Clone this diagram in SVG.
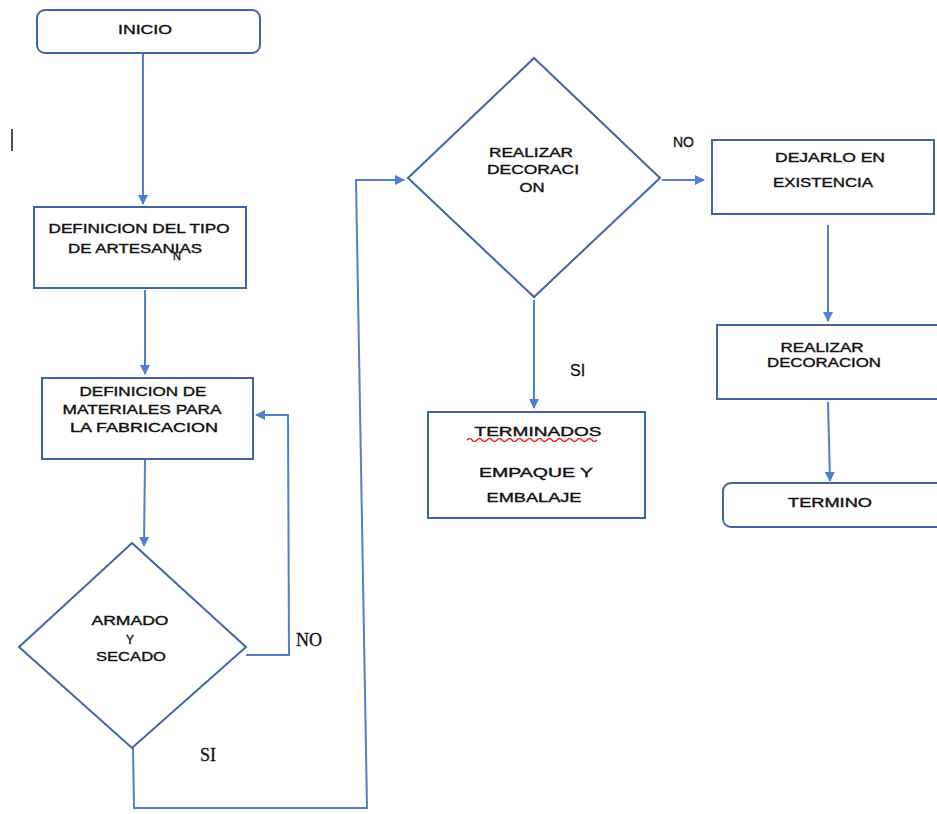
<svg xmlns="http://www.w3.org/2000/svg" width="937" height="814" viewBox="0 0 937 814">
<defs>
<style>
.box{fill:#ffffff;stroke:#41669f;stroke-width:2}
.con{fill:none;stroke:#4f7fcf;stroke-width:2}
.t{font-family:"Liberation Sans",Arial,sans-serif;font-size:12px;fill:#111;stroke:#111;stroke-width:0.35;text-anchor:middle;dominant-baseline:central}
.lbl{font-family:"Liberation Serif","Times New Roman",serif;font-size:18px;fill:#111;stroke:#111;stroke-width:0.3;dominant-baseline:central}
.lbls{font-family:"Liberation Sans",Arial,sans-serif;font-size:16px;fill:#111;stroke:#111;stroke-width:0.3;dominant-baseline:central}
</style>
<marker id="ah" viewBox="0 0 10 10" refX="9" refY="5" markerWidth="5" markerHeight="5" orient="auto" markerUnits="strokeWidth">
<path d="M0,0 L10,5 L0,10 z" fill="#4f7fcf"/>
</marker>
</defs>
<rect width="937" height="814" fill="#ffffff"/>
<line x1="12" y1="129" x2="12" y2="151" stroke="#222" stroke-width="1.6"/>

<g id="connectors">
<path class="con" d="M143,54 L143,204" marker-end="url(#ah)"/>
<path class="con" d="M145,290 L145,374" marker-end="url(#ah)"/>
<path class="con" d="M145,460 L144,546" marker-end="url(#ah)"/>
<path class="con" d="M246,655 L289,655 L288,415 L256,415" marker-end="url(#ah)"/>
<path class="con" d="M133,748 L134,808 L367,808 L356,180 L404,180" marker-end="url(#ah)"/>
<path class="con" d="M662,180 L704,180" marker-end="url(#ah)"/>
<path class="con" d="M534,300 L534,408" marker-end="url(#ah)"/>
<path class="con" d="M828,225 L828,321" marker-end="url(#ah)"/>
<path class="con" d="M828,402 L830,481" marker-end="url(#ah)"/>
<text class="lbl" x="296" y="640">NO</text>
<text class="lbl" x="200" y="755">SI</text>
<text class="lbls" x="673" y="142" style="font-size:14px">NO</text>
<text class="lbls" x="570" y="370">SI</text>
</g>

<g id="inicio">
<rect class="box" x="37" y="10" width="223" height="43" rx="8"/>
<text class="t" x="145" y="30" textLength="54" lengthAdjust="spacingAndGlyphs">INICIO</text>
</g>

<g id="definicion-tipo">
<rect class="box" x="34" y="207" width="212" height="81"/>
<text class="t" x="139" y="229" textLength="181" lengthAdjust="spacingAndGlyphs">DEFINICION DEL TIPO</text>
<text class="t" x="135" y="249" textLength="134" lengthAdjust="spacingAndGlyphs">DE ARTESANIAS</text>
<text class="t" x="177" y="256" style="font-size:11px">N</text>
</g>

<g id="definicion-materiales">
<rect class="box" x="42" y="378" width="211" height="81"/>
<text class="t" x="143" y="392" textLength="127" lengthAdjust="spacingAndGlyphs">DEFINICION DE</text>
<text class="t" x="142" y="410" textLength="159" lengthAdjust="spacingAndGlyphs">MATERIALES PARA</text>
<text class="t" x="144" y="428" textLength="148" lengthAdjust="spacingAndGlyphs">LA FABRICACION</text>
</g>

<g id="armado-secado">
<polygon class="box" points="132,543 246,647 132,748 19,647"/>
<text class="t" x="130" y="621" textLength="77" lengthAdjust="spacingAndGlyphs">ARMADO</text>
<text class="t" x="130" y="640">Y</text>
<text class="t" x="131" y="657" textLength="70" lengthAdjust="spacingAndGlyphs">SECADO</text>
</g>

<g id="realizar-decoracion-decision">
<polygon class="box" points="534,58 660,178 534,297 408,178"/>
<text class="t" x="531" y="153" textLength="84" lengthAdjust="spacingAndGlyphs">REALIZAR</text>
<text class="t" x="533" y="170" textLength="92" lengthAdjust="spacingAndGlyphs">DECORACI</text>
<text class="t" x="532" y="188" textLength="25" lengthAdjust="spacingAndGlyphs">ON</text>
</g>

<g id="dejarlo-existencia">
<rect class="box" x="712" y="140" width="222" height="74"/>
<text class="t" x="830" y="158" textLength="110" lengthAdjust="spacingAndGlyphs">DEJARLO EN</text>
<text class="t" x="823" y="183" textLength="100" lengthAdjust="spacingAndGlyphs">EXISTENCIA</text>
</g>

<g id="terminados">
<rect class="box" x="428" y="412" width="217" height="106"/>
<text class="t" x="538" y="432" textLength="127" lengthAdjust="spacingAndGlyphs">TERMINADOS</text>
<path d="M467,440 q2.5,-3 5,0 t5,0 t5,0 t5,0 t5,0 t5,0 t5,0 t5,0 t5,0 t5,0 t5,0 t5,0 t5,0 t5,0 t5,0 t5,0 t5,0 t5,0 t5,0 t5,0 t5,0 t5,0 t5,0 t5,0 t5,0 t5,0" fill="none" stroke="#e02020" stroke-width="1.3"/>
<text class="t" x="536" y="473" textLength="114" lengthAdjust="spacingAndGlyphs">EMPAQUE Y</text>
<text class="t" x="534" y="498" textLength="95" lengthAdjust="spacingAndGlyphs">EMBALAJE</text>
</g>

<g id="realizar-decoracion">
<rect class="box" x="717" y="325" width="222" height="74"/>
<text class="t" x="822" y="348" textLength="83" lengthAdjust="spacingAndGlyphs">REALIZAR</text>
<text class="t" x="824" y="363" textLength="114" lengthAdjust="spacingAndGlyphs">DECORACION</text>
</g>

<g id="termino">
<rect class="box" x="723" y="483" width="230" height="44" rx="8"/>
<text class="t" x="830" y="503" textLength="84" lengthAdjust="spacingAndGlyphs">TERMINO</text>
</g>
</svg>
